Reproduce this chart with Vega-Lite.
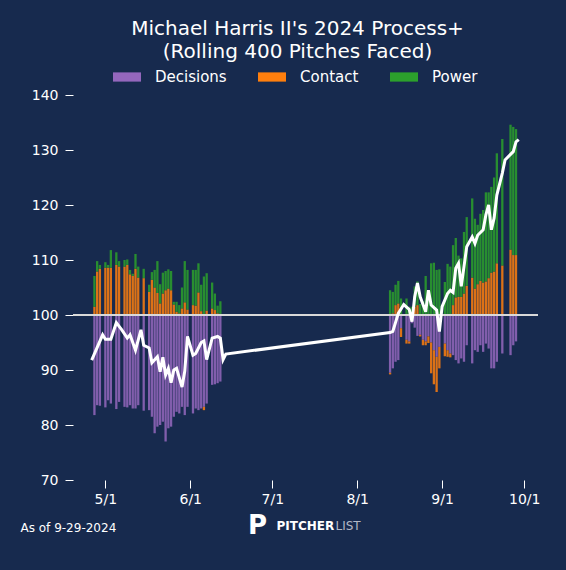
{
  "$schema": "https://vega.github.io/schema/vega-lite/v6.json",
  "description": "Michael Harris II 2024 Process+ with rolling component bars",
  "width": 465,
  "height": 385,
  "autosize": {"type": "none"},
  "padding": {"left": 73, "top": 95, "right": 28, "bottom": 90},
  "background": "#172a4e",
  "title": {
    "text": ["Michael Harris II's 2024 Process+", "(Rolling 400 Pitches Faced)"],
    "color": "white",
    "font": "DejaVu Sans",
    "fontSize": 20,
    "fontWeight": "normal",
    "lineHeight": 23,
    "anchor": "middle",
    "frame": "group",
    "dx": -8,
    "offset": 1
  },
  "datasets": {
    "bars": [
      {"date": "2024-04-27", "Decisions": -18.2, "Contact": 1.5, "Power": 5.6},
      {"date": "2024-04-28", "Decisions": -16.4, "Contact": 7.9, "Power": 1.9},
      {"date": "2024-04-29", "Decisions": -16.5, "Contact": 8.4, "Power": 0.7},
      {"date": "2024-05-01", "Decisions": -16.8, "Contact": 8.6, "Power": 1.0},
      {"date": "2024-05-02", "Decisions": -15.5, "Contact": 8.6, "Power": 0.5},
      {"date": "2024-05-03", "Decisions": -16.1, "Contact": 8.6, "Power": 3.2},
      {"date": "2024-05-05", "Decisions": -17.1, "Contact": 9.1, "Power": 2.3},
      {"date": "2024-05-06", "Decisions": -15.8, "Contact": 8.8, "Power": 1.0},
      {"date": "2024-05-08", "Decisions": -16.7, "Contact": 8.8, "Power": 1.2},
      {"date": "2024-05-09", "Decisions": -16.8, "Contact": 9.1, "Power": 1.0},
      {"date": "2024-05-10", "Decisions": -16.4, "Contact": 7.4, "Power": 0.8},
      {"date": "2024-05-11", "Decisions": -17.0, "Contact": 7.1, "Power": 0.4},
      {"date": "2024-05-12", "Decisions": -17.0, "Contact": 8.4, "Power": 2.7},
      {"date": "2024-05-13", "Decisions": -16.4, "Contact": 6.8, "Power": 2.0},
      {"date": "2024-05-15", "Decisions": -17.4, "Contact": 6.7, "Power": 1.7},
      {"date": "2024-05-17", "Decisions": -17.3, "Contact": 4.2, "Power": 1.3},
      {"date": "2024-05-18", "Decisions": -18.5, "Contact": 6.4, "Power": 1.4},
      {"date": "2024-05-19", "Decisions": -21.5, "Contact": 5.0, "Power": 3.2},
      {"date": "2024-05-20", "Decisions": -20.3, "Contact": 4.0, "Power": 5.8},
      {"date": "2024-05-21", "Decisions": -20.0, "Contact": 2.1, "Power": 3.5},
      {"date": "2024-05-22", "Decisions": -19.4, "Contact": 3.9, "Power": 3.8},
      {"date": "2024-05-23", "Decisions": -23.0, "Contact": 4.5, "Power": 3.5},
      {"date": "2024-05-24", "Decisions": -20.6, "Contact": 4.8, "Power": 3.5},
      {"date": "2024-05-25", "Decisions": -20.3, "Contact": 4.5, "Power": 3.5},
      {"date": "2024-05-26", "Decisions": -18.5, "Contact": 1.9, "Power": 0.5},
      {"date": "2024-05-27", "Decisions": -17.6, "Contact": 0.6, "Power": 1.8},
      {"date": "2024-05-28", "Decisions": -17.9, "Contact": 0.3, "Power": 1.5},
      {"date": "2024-05-29", "Decisions": -16.7, "Contact": 1.2, "Power": 3.8},
      {"date": "2024-05-30", "Decisions": -18.2, "Contact": 2.3, "Power": 7.5},
      {"date": "2024-05-31", "Decisions": -16.7, "Contact": 1.0, "Power": 7.2},
      {"date": "2024-06-02", "Decisions": -17.9, "Contact": 1.8, "Power": 6.4},
      {"date": "2024-06-03", "Decisions": -17.0, "Contact": 1.7, "Power": 6.5},
      {"date": "2024-06-04", "Decisions": -17.3, "Contact": 4.1, "Power": 5.3},
      {"date": "2024-06-05", "Decisions": -17.0, "Contact": 0.7, "Power": 4.8},
      {"date": "2024-06-06", "Decisions": -16.7, "Contact": -0.6, "Power": 7.0},
      {"date": "2024-06-07", "Decisions": -16.1, "Contact": 0.8, "Power": 6.8},
      {"date": "2024-06-09", "Decisions": -12.7, "Contact": 1.2, "Power": 4.7},
      {"date": "2024-06-10", "Decisions": -12.6, "Contact": 0.9, "Power": 3.0},
      {"date": "2024-06-11", "Decisions": -12.4, "Contact": 0.3, "Power": 1.4},
      {"date": "2024-06-12", "Decisions": -12.1, "Contact": 0.2, "Power": 2.3},
      {"date": "2024-08-13", "Decisions": -10.5, "Contact": -0.3, "Power": 4.5},
      {"date": "2024-08-14", "Decisions": -9.7, "Contact": 0.3, "Power": 3.9},
      {"date": "2024-08-15", "Decisions": -8.5, "Contact": 1.8, "Power": 3.7},
      {"date": "2024-08-16", "Decisions": -8.2, "Contact": 2.1, "Power": 4.1},
      {"date": "2024-08-17", "Decisions": -2.4, "Contact": -1.6, "Power": 3.0},
      {"date": "2024-08-19", "Decisions": -4.5, "Contact": -0.7, "Power": 3.0},
      {"date": "2024-08-20", "Decisions": -4.8, "Contact": -0.4, "Power": 1.5},
      {"date": "2024-08-21", "Decisions": -1.5, "Contact": 0.5, "Power": 1.0},
      {"date": "2024-08-22", "Decisions": -2.3, "Contact": 1.5, "Power": 3.7},
      {"date": "2024-08-23", "Decisions": -3.8, "Contact": 1.8, "Power": 4.3},
      {"date": "2024-08-24", "Decisions": -3.6, "Contact": -0.3, "Power": 2.0},
      {"date": "2024-08-25", "Decisions": -4.5, "Contact": -1.0, "Power": 2.5},
      {"date": "2024-08-26", "Decisions": -4.8, "Contact": -0.7, "Power": 7.1},
      {"date": "2024-08-27", "Decisions": -3.9, "Contact": -1.2, "Power": 3.0},
      {"date": "2024-08-28", "Decisions": -5.0, "Contact": -5.6, "Power": 9.4},
      {"date": "2024-08-29", "Decisions": -6.4, "Contact": -6.2, "Power": 9.5},
      {"date": "2024-08-30", "Decisions": -7.6, "Contact": -6.4, "Power": 8.2},
      {"date": "2024-08-31", "Decisions": -5.8, "Contact": -3.9, "Power": 8.3},
      {"date": "2024-09-02", "Decisions": -5.2, "Contact": -2.3, "Power": 6.0},
      {"date": "2024-09-03", "Decisions": -6.4, "Contact": -1.2, "Power": 9.3},
      {"date": "2024-09-04", "Decisions": -7.0, "Contact": -0.7, "Power": 8.8},
      {"date": "2024-09-05", "Decisions": -7.3, "Contact": 1.8, "Power": 10.9},
      {"date": "2024-09-06", "Decisions": -8.2, "Contact": 3.2, "Power": 10.8},
      {"date": "2024-09-07", "Decisions": -8.8, "Contact": 3.3, "Power": 7.5},
      {"date": "2024-09-08", "Decisions": -7.9, "Contact": 3.3, "Power": 7.0},
      {"date": "2024-09-09", "Decisions": -8.5, "Contact": 3.9, "Power": 11.2},
      {"date": "2024-09-10", "Decisions": -5.5, "Contact": 5.3, "Power": 12.5},
      {"date": "2024-09-12", "Decisions": -8.8, "Contact": 6.8, "Power": 14.4},
      {"date": "2024-09-13", "Decisions": -6.4, "Contact": 4.8, "Power": 12.7},
      {"date": "2024-09-14", "Decisions": -6.7, "Contact": 5.6, "Power": 10.8},
      {"date": "2024-09-15", "Decisions": -5.5, "Contact": 6.2, "Power": 12.2},
      {"date": "2024-09-16", "Decisions": -6.7, "Contact": 5.9, "Power": 13.2},
      {"date": "2024-09-17", "Decisions": -5.2, "Contact": 6.1, "Power": 16.2},
      {"date": "2024-09-18", "Decisions": -6.1, "Contact": 6.7, "Power": 15.6},
      {"date": "2024-09-19", "Decisions": -9.7, "Contact": 7.7, "Power": 15.6},
      {"date": "2024-09-20", "Decisions": -9.7, "Contact": 7.9, "Power": 17.1},
      {"date": "2024-09-21", "Decisions": -8.5, "Contact": 9.4, "Power": 20.0},
      {"date": "2024-09-23", "Decisions": -7.0, "Contact": 9.0, "Power": 23.0},
      {"date": "2024-09-26", "Decisions": -7.3, "Contact": 11.9, "Power": 22.7},
      {"date": "2024-09-27", "Decisions": -5.5, "Contact": 10.9, "Power": 23.3},
      {"date": "2024-09-28", "Decisions": -4.8, "Contact": 10.9, "Power": 22.9}
    ],
    "line": [
      {"date": "2024-04-26", "process": 91.8},
      {"date": "2024-04-30", "process": 96.4},
      {"date": "2024-05-01", "process": 95.6},
      {"date": "2024-05-03", "process": 95.6},
      {"date": "2024-05-05", "process": 98.6},
      {"date": "2024-05-07", "process": 97.3},
      {"date": "2024-05-09", "process": 95.8},
      {"date": "2024-05-10", "process": 96.4},
      {"date": "2024-05-12", "process": 93.6},
      {"date": "2024-05-14", "process": 97.3},
      {"date": "2024-05-15", "process": 94.5},
      {"date": "2024-05-17", "process": 94.0},
      {"date": "2024-05-18", "process": 91.3},
      {"date": "2024-05-20", "process": 92.4},
      {"date": "2024-05-21", "process": 89.7},
      {"date": "2024-05-22", "process": 92.3},
      {"date": "2024-05-23", "process": 89.1},
      {"date": "2024-05-24", "process": 90.3},
      {"date": "2024-05-25", "process": 87.7},
      {"date": "2024-05-26", "process": 90.0},
      {"date": "2024-05-27", "process": 90.3},
      {"date": "2024-05-29", "process": 86.9},
      {"date": "2024-05-30", "process": 89.8},
      {"date": "2024-05-31", "process": 96.1},
      {"date": "2024-06-02", "process": 92.7},
      {"date": "2024-06-03", "process": 93.0},
      {"date": "2024-06-05", "process": 95.0},
      {"date": "2024-06-06", "process": 95.3},
      {"date": "2024-06-07", "process": 91.9},
      {"date": "2024-06-09", "process": 95.8},
      {"date": "2024-06-11", "process": 96.1},
      {"date": "2024-06-12", "process": 95.8},
      {"date": "2024-06-13", "process": 91.9},
      {"date": "2024-06-14", "process": 92.9},
      {"date": "2024-08-13", "process": 96.8},
      {"date": "2024-08-14", "process": 97.0},
      {"date": "2024-08-16", "process": 100.3},
      {"date": "2024-08-18", "process": 101.9},
      {"date": "2024-08-20", "process": 101.0},
      {"date": "2024-08-21", "process": 98.8},
      {"date": "2024-08-22", "process": 103.3},
      {"date": "2024-08-23", "process": 105.8},
      {"date": "2024-08-24", "process": 103.3},
      {"date": "2024-08-26", "process": 100.6},
      {"date": "2024-08-27", "process": 104.5},
      {"date": "2024-08-28", "process": 101.8},
      {"date": "2024-08-30", "process": 100.9},
      {"date": "2024-08-31", "process": 97.0},
      {"date": "2024-09-01", "process": 101.5},
      {"date": "2024-09-03", "process": 103.9},
      {"date": "2024-09-04", "process": 104.5},
      {"date": "2024-09-05", "process": 104.1},
      {"date": "2024-09-06", "process": 108.5},
      {"date": "2024-09-07", "process": 109.4},
      {"date": "2024-09-08", "process": 105.2},
      {"date": "2024-09-09", "process": 108.8},
      {"date": "2024-09-10", "process": 112.4},
      {"date": "2024-09-12", "process": 114.2},
      {"date": "2024-09-13", "process": 113.0},
      {"date": "2024-09-14", "process": 114.5},
      {"date": "2024-09-16", "process": 115.5},
      {"date": "2024-09-17", "process": 118.2},
      {"date": "2024-09-18", "process": 120.0},
      {"date": "2024-09-19", "process": 115.5},
      {"date": "2024-09-20", "process": 117.6},
      {"date": "2024-09-21", "process": 121.8},
      {"date": "2024-09-23", "process": 125.8},
      {"date": "2024-09-24", "process": 128.2},
      {"date": "2024-09-27", "process": 129.7},
      {"date": "2024-09-28", "process": 131.5},
      {"date": "2024-09-29", "process": 131.9}
    ]
  },
  "layer": [
    {
      "data": {"name": "bars"},
      "transform": [
        {"fold": ["Decisions", "Contact", "Power"], "as": ["Component", "Value"]},
        {"window": [{"op": "row_number", "as": "stackOrder"}], "groupby": ["date"]}
      ],
      "mark": {"type": "bar", "width": 2.3, "opacity": 0.85},
      "encoding": {
        "x": {
          "field": "date",
          "type": "temporal",
          "scale": {
            "type": "utc",
            "domain": [
              {"year": 2024, "month": 4, "date": 21, "utc": true},
              {"year": 2024, "month": 10, "date": 4, "hours": 5, "utc": true}
            ]
          },
          "axis": {
            "values": [
              {"year": 2024, "month": 5, "date": 1, "utc": true},
              {"year": 2024, "month": 6, "date": 1, "utc": true},
              {"year": 2024, "month": 7, "date": 1, "utc": true},
              {"year": 2024, "month": 8, "date": 1, "utc": true},
              {"year": 2024, "month": 9, "date": 1, "utc": true},
              {"year": 2024, "month": 10, "date": 1, "utc": true}
            ],
            "labelExpr": "utcFormat(datum.value, '%-m/%-d')",
            "domain": false,
            "grid": false,
            "tickColor": "white",
            "tickSize": 8,
            "labelColor": "white",
            "labelFont": "DejaVu Sans",
            "labelFontSize": 14,
            "labelPadding": 4,
            "title": "As of 9-29-2024",
            "titleColor": "white",
            "titleFont": "DejaVu Sans",
            "titleFontSize": 12,
            "titleFontWeight": "normal",
            "titleAlign": "left",
            "titleBaseline": "middle",
            "titleX": -53,
            "titleY": 47
          }
        },
        "y": {
          "field": "Value",
          "type": "quantitative",
          "stack": "zero",
          "scale": {"domain": [-30, 40], "nice": false, "zero": false},
          "axis": {
            "orient": "right",
            "labels": false,
            "ticks": false,
            "domain": false,
            "grid": false,
            "title": "PITCHER",
            "titleColor": "white",
            "titleFont": "DejaVu Sans",
            "titleFontSize": 12,
            "titleFontWeight": "bold",
            "titleAngle": 0,
            "titleAlign": "left",
            "titleBaseline": "middle",
            "titleX": -262,
            "titleY": 430
          }
        },
        "color": {
          "field": "Component",
          "type": "nominal",
          "scale": {
            "domain": ["Decisions", "Contact", "Power"],
            "range": ["#9467bd", "#ff7f0e", "#2ca02c"]
          },
          "legend": {
            "title": null,
            "orient": "none",
            "legendX": 40,
            "legendY": -32,
            "direction": "horizontal",
            "symbolType": "M-1,-0.33H1V0.33H-1Z",
            "symbolSize": 784,
            "symbolOpacity": 1,
            "symbolStrokeWidth": 0,
            "labelColor": "white",
            "labelFont": "DejaVu Sans",
            "labelFontSize": 15,
            "labelOffset": 14,
            "columnPadding": 31
          }
        },
        "order": {"field": "stackOrder", "type": "quantitative"}
      }
    },
    {
      "data": {"values": [{"level": 100}]},
      "mark": {"type": "rule", "color": "#d9d9d9", "strokeWidth": 2},
      "encoding": {
        "y": {
          "field": "level",
          "type": "quantitative",
          "scale": {"domain": [70, 140], "nice": false, "zero": false},
          "axis": {
            "orient": "right",
            "labels": false,
            "ticks": false,
            "domain": false,
            "grid": false,
            "title": "LIST",
            "titleColor": "#b4b9c6",
            "titleFont": "DejaVu Sans",
            "titleFontSize": 12,
            "titleFontWeight": "normal",
            "titleAngle": 0,
            "titleAlign": "left",
            "titleBaseline": "middle",
            "titleX": -203,
            "titleY": 430
          }
        }
      }
    },
    {
      "data": {"name": "line"},
      "mark": {"type": "line", "color": "white", "strokeWidth": 3},
      "encoding": {
        "x": {"field": "date", "type": "temporal"},
        "y": {
          "field": "process",
          "type": "quantitative",
          "scale": {"domain": [70, 140], "nice": false, "zero": false},
          "axis": {
            "orient": "left",
            "values": [70, 80, 90, 100, 110, 120, 130, 140],
            "domain": false,
            "grid": false,
            "tickColor": "white",
            "tickSize": 8,
            "labelColor": "white",
            "labelFont": "DejaVu Sans",
            "labelFontSize": 14,
            "labelPadding": 7,
            "title": "P",
            "titleColor": "white",
            "titleFont": "DejaVu Sans",
            "titleFontSize": 26,
            "titleFontWeight": "bold",
            "titleAngle": 0,
            "titleAlign": "center",
            "titleBaseline": "middle",
            "titleX": 184,
            "titleY": 430
          }
        }
      }
    }
  ],
  "resolve": {"scale": {"y": "independent"}},
  "config": {"view": {"stroke": null}, "font": "DejaVu Sans"}
}
